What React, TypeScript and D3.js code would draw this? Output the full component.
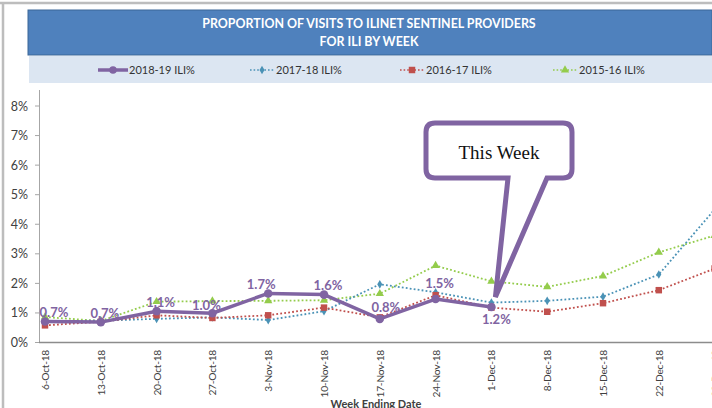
import React from "react";
import * as d3 from "d3";

const weeks = ["6-Oct-18","13-Oct-18","20-Oct-18","27-Oct-18","3-Nov-18","10-Nov-18","17-Nov-18","24-Nov-18","1-Dec-18","8-Dec-18","15-Dec-18","22-Dec-18","29-Dec-18"];
const s1819 = [0.71, 0.69, 1.06, 0.99, 1.66, 1.62, 0.8, 1.47, 1.2];
const s1718 = [0.72, 0.74, 0.8, 0.85, 0.76, 1.06, 1.97, 1.7, 1.35, 1.41, 1.55, 2.3, 4.5];
const s1617 = [0.58, 0.7, 0.92, 0.83, 0.92, 1.18, 0.85, 1.6, 1.18, 1.04, 1.33, 1.77, 2.5];
const s1516 = [0.86, 0.73, 1.38, 1.4, 1.41, 1.43, 1.65, 2.6, 2.07, 1.88, 2.25, 3.05, 3.62];
const yTicks = [0, 1, 2, 3, 4, 5, 6, 7, 8];
const legendNames = ["2018-19 ILI%", "2017-18 ILI%", "2016-17 ILI%", "2015-16 ILI%"];

const PURPLE = "#8064A2";
const BLUE = "#4A92B6";
const RED = "#C0504D";
const GREEN = "#94CC4C";
const SANS = "Lato, 'Open Sans', sans-serif";

const W = 712, H = 408;

export default function App() {
  const x = d3.scalePoint<string>().domain(weeks).range([45, 45 + 55.8 * (weeks.length - 1)]);
  const y = d3.scaleLinear().domain([0, 8]).range([342.5, 106]);
  const line = d3.line<number>().x((_, i) => x(weeks[i])!).y((d) => y(d));
  const fmt = d3.format(".1f");

  const tri = d3.symbol().type(d3.symbolTriangle).size(30)()!;
  const sq = d3.symbol().type(d3.symbolSquare).size(42)()!;
  const dia = d3.symbol().type(d3.symbolDiamond).size(22)()!;

  // callout geometry
  const bx0 = 426, bx1 = 572, by0 = 123, by1 = 178, r = 9;
  const tipX = x("1-Dec-18")! + 4, tipY = y(s1819[8]) - 10;
  const callout = `M${bx0 + r},${by0} H${bx1 - r} Q${bx1},${by0} ${bx1},${by0 + r} V${by1 - r} Q${bx1},${by1} ${bx1 - r},${by1} H547 L${tipX},${tipY} L508,${by1} H${bx0 + r} Q${bx0},${by1} ${bx0},${by1 - r} V${by0 + r} Q${bx0},${by0} ${bx0 + r},${by0} Z`;

  const labelOff = (i: number) => {
    if (i === 8) return { dx: 5, dy: 12 };
    if (i === 7) return { dx: 4, dy: -16 };
    if (i === 6) return { dx: 6, dy: -11 };
    if (i === 0) return { dx: 9, dy: -9 };
    if (i === 3) return { dx: -6, dy: -8 };
    if (i === 4) return { dx: -7, dy: -9 };
    return { dx: 4, dy: -9 };
  };

  const legendX = [98, 250, 400, 553];

  return (
    <svg width={W} height={H} style={{ position: "absolute", left: 0, top: 0 }}>
      <rect x={0} y={0} width={W} height={H} fill="#fff" />
      {/* frame */}
      <line x1={0} y1={3} x2={W} y2={3} stroke="#BDBDBD" strokeWidth={2.5} />
      <line x1={3} y1={3} x2={3} y2={H} stroke="#BDBDBD" strokeWidth={2.5} />

      {/* title */}
      <rect x={28} y={10} width={684} height={45} fill="#4F81BD" stroke="#3B6798" strokeWidth={1} />
      <text x={369} y={28} textAnchor="middle" fill="#fff" fontFamily={SANS} fontWeight="bold" fontSize={12.4}>
        PROPORTION OF VISITS TO ILINET SENTINEL PROVIDERS
      </text>
      <text x={369} y={46} textAnchor="middle" fill="#fff" fontFamily={SANS} fontWeight="bold" fontSize={12.4}>
        FOR ILI BY WEEK
      </text>
      <rect x={29} y={56} width={683} height={27} fill="#DCE6F2" />

      {/* legend */}
      {legendNames.map((name, k) => {
        const lx = legendX[k];
        const ly = 70;
        const col = [PURPLE, BLUE, RED, GREEN][k];
        return (
          <g key={name}>
            {k === 0 ? (
              <>
                <line x1={lx} y1={ly} x2={lx + 30} y2={ly} stroke={col} strokeWidth={3.5} />
                <circle cx={lx + 15} cy={ly} r={3.8} fill={col} />
              </>
            ) : (
              <>
                <line x1={lx} y1={ly} x2={lx + 24} y2={ly} stroke={col} strokeWidth={1.6} strokeDasharray="1.6 2" />
                <path transform={`translate(${lx + 12},${ly})`} d={k === 1 ? dia : k === 2 ? sq : tri} fill={col} />
              </>
            )}
            <text x={lx + (k === 0 ? 31 : 26)} y={ly + 4} fontFamily={SANS} fontSize={11} fill="#333">
              {name}
            </text>
          </g>
        );
      })}

      {/* y axis */}
      <line x1={39.5} y1={90} x2={39.5} y2={y(0)} stroke="#A6A6A6" strokeWidth={1} />
      {yTicks.map((t) => (
        <g key={t}>
          <line x1={35} x2={39.5} y1={y(t)} y2={y(t)} stroke="#A6A6A6" />
          <text x={28} y={y(t) + 4.5} textAnchor="end" fontFamily={SANS} fontSize={12.5} fill="#404040">
            {t}%
          </text>
        </g>
      ))}

      {/* x axis */}
      <line x1={39} y1={y(0)} x2={W} y2={y(0)} stroke="#8C8C8C" strokeWidth={1.6} />
      {weeks.map((w) => (
        <text
          key={w}
          transform={`translate(${x(w)! + 4},350) rotate(-90)`}
          textAnchor="end"
          fontFamily={SANS}
          fontSize={10.2}
          letterSpacing={-0.25}
          fill="#404040"
        >
          {w}
        </text>
      ))}
      <text x={376} y={408} textAnchor="middle" fontFamily={SANS} fontWeight="bold" fontSize={11} fill="#404040">
        Week Ending Date
      </text>

      {/* series */}
      <path d={line(s1516)!} fill="none" stroke={GREEN} strokeWidth={1.8} strokeDasharray="1.8 2.2" />
      <path d={line(s1718)!} fill="none" stroke={BLUE} strokeWidth={1.8} strokeDasharray="1.8 2.2" />
      <path d={line(s1617)!} fill="none" stroke={RED} strokeWidth={1.8} strokeDasharray="1.8 2.2" />
      {s1516.map((v, i) => (
        <path key={"g" + i} transform={`translate(${x(weeks[i])},${y(v)})`} d={tri} fill={GREEN} />
      ))}
      {s1718.map((v, i) => (
        <path key={"b" + i} transform={`translate(${x(weeks[i])},${y(v)})`} d={dia} fill={BLUE} />
      ))}
      {s1617.map((v, i) => (
        <path key={"r" + i} transform={`translate(${x(weeks[i])},${y(v)})`} d={sq} fill={RED} />
      ))}
      <path d={line(s1819)!} fill="none" stroke={PURPLE} strokeWidth={3.5} strokeLinejoin="round" />
      {s1819.map((v, i) => (
        <circle key={"p" + i} cx={x(weeks[i])} cy={y(v)} r={4.3} fill={PURPLE} />
      ))}

      {/* callout */}
      <path d={callout} fill="#fff" stroke={PURPLE} strokeWidth={5} strokeLinejoin="miter" />
      <text x={499} y={159} textAnchor="middle" fontFamily="'Liberation Serif', 'Times New Roman', serif" fontSize={19} fill="#111">
        This Week
      </text>

      {/* data labels */}
      {s1819.map((v, i) => {
        const o = labelOff(i);
        return (
          <text
            key={"l" + i}
            x={x(weeks[i])! + o.dx}
            y={y(v) + o.dy + 4.5}
            textAnchor="middle"
            fontFamily={SANS}
            fontWeight="bold"
            fontSize={13}
            fill={PURPLE}
          >
            {fmt(v)}%
          </text>
        );
      })}
    </svg>
  );
}
